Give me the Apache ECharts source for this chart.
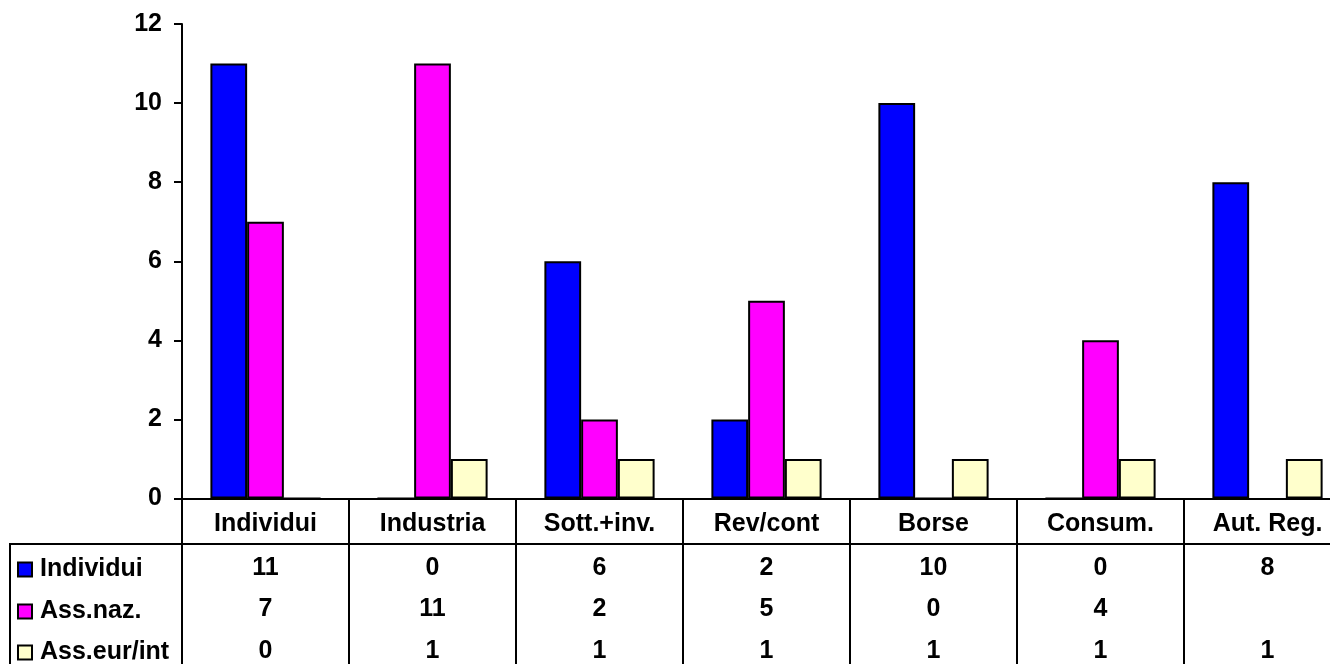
<!DOCTYPE html>
<html>
<head>
<meta charset="utf-8">
<script src="https://cdn.jsdelivr.net/npm/echarts@6/dist/echarts.min.js"></script>
<style>
html,body{margin:0;padding:0;background:#fff;}
#c{width:1330px;height:664px;}
</style>
</head>
<body>
<div id="c"></div>
<script>
const categories = ['Individui', 'Industria', 'Sott.+inv.', 'Rev/cont', 'Borse', 'Consum.', 'Aut. Reg.'];
const seriesNames = ['Individui', 'Ass.naz.', 'Ass.eur/int'];
const individui = [11, 0, 6, 2, 10, 0, 8];
const assNaz = [7, 11, 2, 5, 0, 4, null];
const assEurInt = [0, 1, 1, 1, 1, 1, 1];
const yTicks = [0, 2, 4, 6, 8, 10, 12];
const colors = ['#0000FF', '#FF00FF', '#FFFFCC'];

const FONT = 'Arial, "Liberation Sans", sans-serif';
const FS = 25;
const allSeries = [individui, assNaz, assEurInt];
const chart = echarts.init(document.getElementById('c'));

const rowOffsets = [58, 99, 141];
const legendTops = [552, 594, 635];
const tableAxes = allSeries.map((arr, k) => ({
  type: 'category',
  gridIndex: 0,
  position: 'bottom',
  offset: rowOffsets[k],
  data: categories,
  axisLine: {show: false},
  axisTick: {show: false},
  axisLabel: {
    interval: 0, margin: 0,
    color: '#000', fontFamily: FONT, fontWeight: 'bold', fontSize: FS, lineHeight: 24,
    formatter: (v, i) => (arr[i] === null || arr[i] === undefined) ? '' : String(arr[i])
  }
}));

const legends = seriesNames.map((name, k) => ({
  orient: 'vertical', left: 12, top: legendTops[k],
  itemWidth: 14, itemHeight: 14, icon: 'rect',
  data: [name],
  textStyle: {color: '#000', fontFamily: FONT, fontWeight: 'bold', fontSize: FS, lineHeight: 24, padding: [0,0,0,3]},
  selectedMode: false
}));

chart.setOption({
  animation: false,
  backgroundColor: '#fff',
  grid: {left: 182, width: 1169, top: 24, bottom: 165.5, containLabel: false, outerBoundsMode: 'none'},
  legend: legends,
  xAxis: [{
    type: 'category',
    data: categories,
    axisLine: {show: true, lineStyle: {color: '#000', width: 2}},
    axisTick: {show: true, interval: 0, inside: false, length: 166, lineStyle: {color: '#000', width: 2}},
    axisLabel: {interval: 0, margin: 14, color: '#000', fontFamily: FONT, fontWeight: 'bold', fontSize: FS, lineHeight: 24},
    splitLine: {show: false}
  }].concat(tableAxes),
  yAxis: {
    type: 'value', min: 0, max: 12, interval: 2,
    axisLine: {show: true, lineStyle: {color: '#000', width: 2}},
    axisTick: {show: true, length: 8, lineStyle: {color: '#000', width: 2}},
    axisLabel: {margin: 20, color: '#000', fontFamily: FONT, fontWeight: 'bold', fontSize: FS,
      formatter: v => yTicks.indexOf(v) >= 0 ? String(v) : ''},
    splitLine: {show: false}
  },
  series: allSeries.map((arr, k) => ({
    name: seriesNames[k],
    type: 'bar',
    data: arr,
    barGap: '0%',
    barCategoryGap: '34%',
    itemStyle: {color: colors[k], borderColor: '#000', borderWidth: 2}
  })),
  graphic: [
    {type: 'line', shape: {x1: 10, y1: 544, x2: 1330, y2: 544}, style: {stroke: '#000', lineWidth: 2}},
    {type: 'line', shape: {x1: 10, y1: 543, x2: 10, y2: 664}, style: {stroke: '#000', lineWidth: 2}}
  ]
});
</script>
</body>
</html>
